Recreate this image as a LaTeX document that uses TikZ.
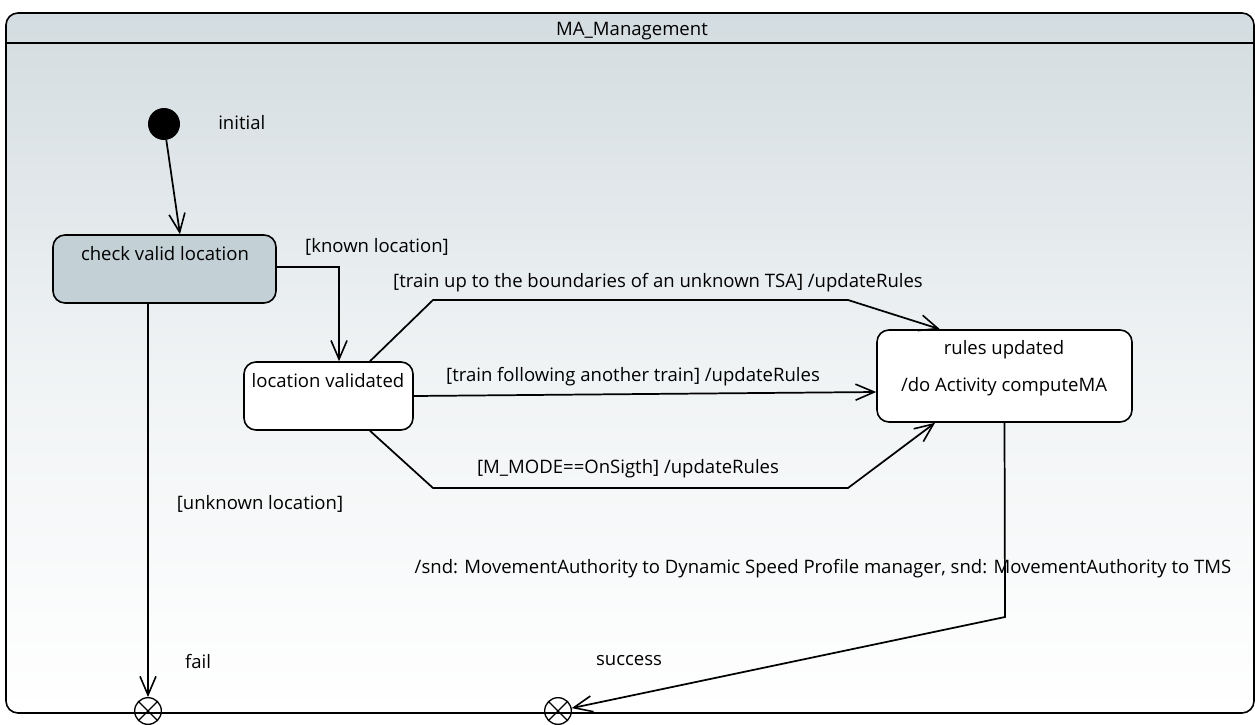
\documentclass[tikz,border=0pt]{standalone}
\usepackage{fontspec}
\setmainfont{Open Sans}
\usetikzlibrary{arrows.meta}
\definecolor{gtop}{HTML}{D3DCE0}
\definecolor{cvlfill}{HTML}{C3D0D5}
\tikzset{
  lbl/.style={font=\fontsize{13.9}{15}\selectfont, inner sep=0pt},
  statebox/.style={draw, line width=1.2pt, rounded corners=9pt, fill=white},
  trans/.style={line width=1.3pt, -{Straight Barb[length=14pt,width=12pt,line width=1.2pt]}},
  exitpt/.style={circle, draw, line width=1pt, minimum size=20pt, inner sep=0pt,
    path picture={\draw[line width=1pt] (path picture bounding box.north west) -- (path picture bounding box.south east)
      (path picture bounding box.north east) -- (path picture bounding box.south west);}},
}
\begin{document}
\begin{tikzpicture}[x=0.75pt,y=-0.75pt]
\useasboundingbox (0,0) rectangle (1255,724);
% frame
\shade[top color=gtop, bottom color=white, middle color=gtop!35, rounded corners=9pt] (6,13) rectangle (1254,713);
\draw[line width=1.2pt, rounded corners=9pt] (6,13) rectangle (1254,713);
\draw[line width=1.1pt] (6,43) -- (1254,43);
\node[lbl] (title) at (632,31) {MA\_Management};

% states
\node[circle, fill=black, minimum size=24pt, inner sep=0pt] (init) at (164,124) {};
\node[lbl, anchor=west] (initlbl) at (218,123) {initial};

\node[statebox, fill=cvlfill, minimum width=167.25pt, minimum height=51pt] (cvl) at (164.5,269) {};
\node[lbl] (cvlT) at (165,254) {check valid location};

\node[statebox, minimum width=126.75pt, minimum height=51pt] (lv) at (328.5,396) {};
\node[lbl] (lvT) at (328,381) {location validated};

\node[statebox, minimum width=191.25pt, minimum height=69pt] (ru) at (1004.5,376) {};
\node[lbl] (ruT1) at (1004,350) {rules updated};
\node[lbl] (ruT2) at (1004,387) {/do Activity computeMA};

\node[exitpt] (fail) at (148,711) {};
\node[exitpt] (succ) at (558,711) {};
\node[lbl] (faillbl) at (198,661) {fail};
\node[lbl] (succlbl) at (629,661) {success};

\coordinate (upA) at (433,300);
\coordinate (upB) at (848,300);
\coordinate (dnA) at (433,488);
\coordinate (dnB) at (848,488);
\coordinate (sbend) at (1005,617);

% transitions
\draw[trans] (init) -- ([xshift=11.6pt]cvl.north);
\draw[trans] ([yshift=1.5pt]cvl.east) -| ([xshift=7.9pt]lv.north);
\draw[trans] ([xshift=31.1pt]lv.north) -- (upA) -- (upB) -- ([xshift=-48.4pt]ru.north);
\draw[trans] (lv.east) -- ([yshift=-12pt]ru.west);
\draw[trans] ([xshift=31.1pt]lv.south) -- (dnA) -- (dnB) -- ([xshift=-52.1pt]ru.south);
\draw[trans] ([xshift=-12.4pt]cvl.south) -- (fail);
\draw[trans] (ru.south) -- (sbend) -- (succ);

% labels
\node[lbl] (l1) at (377,247) {[known location]};
\node[lbl] (l2) at (658,283) {[train up to the boundaries of an unknown TSA] /updateRules};
\node[lbl] (l3) at (633,377) {[train following another train] /updateRules};
\node[lbl] (l4) at (628,469) {[M\_MODE==OnSigth] /updateRules};
\node[lbl] (l5) at (260,504) {[unknown location]};
\node[lbl] (l6) at (823,569) {/snd: MovementAuthority to Dynamic Speed Profile manager, snd: MovementAuthority to TMS};
\end{tikzpicture}
\end{document}
